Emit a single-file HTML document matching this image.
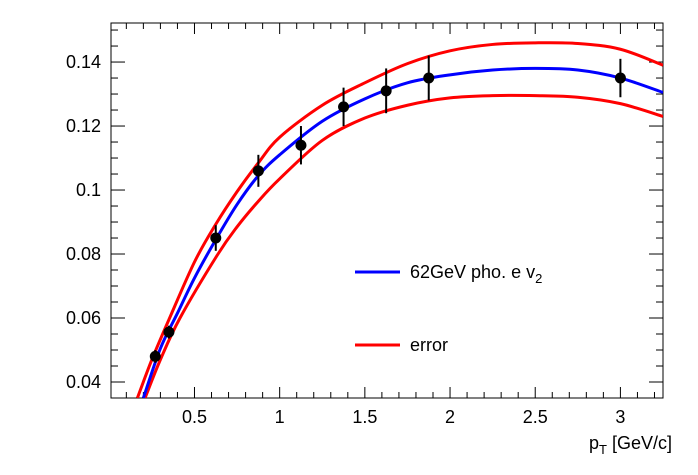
<!DOCTYPE html>
<html><head><meta charset="utf-8"><style>
body{margin:0;background:#fff}
svg{display:block;font-family:"Liberation Sans",sans-serif}
</style></head><body>
<svg id="c" width="698" height="475"></svg>
<script>
const ptX=[0.27,0.35,0.625,0.875,1.125,1.375,1.625,1.875,3];
const ptY=[0.048,0.0556,0.085,0.106,0.114,0.126,0.131,0.135,0.135];
const ptErr=[0.002,0.002,0.004,0.005,0.006,0.006,0.007,0.007,0.006];
const blueX=[0.2,0.3,0.4,0.5,0.625,0.75,0.875,1,1.25,1.5,1.75,2,2.25,2.5,2.75,3,3.25];
const blueY=[0.035,0.0505,0.0615,0.0725,0.0845,0.0955,0.1045,0.111,0.1215,0.1285,0.1335,0.136,0.1375,0.138,0.1375,0.135,0.1305];
const upperX=[0.165,0.25,0.35,0.5,0.625,0.75,0.875,1,1.25,1.5,1.75,2,2.25,2.5,2.75,3,3.25];
const upperY=[0.035,0.047,0.0595,0.0775,0.0893,0.0995,0.1085,0.1165,0.1265,0.1335,0.1395,0.1435,0.1455,0.146,0.1458,0.144,0.139];
const lowerX=[0.21,0.3,0.415,0.632,0.75,0.875,1,1.25,1.5,1.75,2,2.25,2.5,2.75,3,3.25];
const lowerY=[0.035,0.047,0.06,0.0795,0.0885,0.0965,0.1035,0.1155,0.1225,0.1265,0.1288,0.1295,0.1295,0.129,0.127,0.123];
const xTicks=[0.5,1,1.5,2,2.5,3];
const xTickLabels=["0.5","1","1.5","2","2.5","3"];
const yTicks=[0.04,0.06,0.08,0.1,0.12,0.14];
const yTickLabels=["0.04","0.06","0.08","0.1","0.12","0.14"];
const L=111,R=663,T=23,B=398,xmin=0.01,xmax=3.25,ymin=0.035,ymax=0.1522;
const sx=v=>L+(v-xmin)/(xmax-xmin)*(R-L);
const sy=v=>B-(v-ymin)/(ymax-ymin)*(B-T);
const svg=document.getElementById('c');const NS='http://www.w3.org/2000/svg';
function mk(t,a,p){const e=document.createElementNS(NS,t);for(const k in a)e.setAttribute(k,a[k]);(p||svg).appendChild(e);return e;}
const clip=mk('clipPath',{id:'cp'});mk('rect',{x:L,y:T,width:R-L,height:B-T},clip);
const fr=mk('rect',{x:L,y:T,width:R-L,height:B-T,fill:'none',stroke:'#000','stroke-width':1});


for(let v=0.1;v<=3.25;v+=0.1){const x=sx(v);const maj=Math.abs(v*2-Math.round(v*2))<1e-6;const h=maj?11:6;
mk('line',{x1:x,x2:x,y1:B,y2:B-h,stroke:'#000'});mk('line',{x1:x,x2:x,y1:T,y2:T+h,stroke:'#000'});}
xTicks.forEach((v,i)=>{const t=mk('text',{x:sx(v),y:B+25,'text-anchor':'middle','font-size':18});t.textContent=xTickLabels[i];

});
for(let v=0.035;v<=0.152;v+=0.005){const y=sy(v);const maj=Math.abs(v*50-Math.round(v*50))<1e-6;const w=maj?14:7;
mk('line',{x1:L,x2:L+w,y1:y,y2:y,stroke:'#000'});mk('line',{x1:R,x2:R-w,y1:y,y2:y,stroke:'#000'});}
yTicks.forEach((v,i)=>{const t=mk('text',{x:L-10,y:sy(v)+6,'text-anchor':'end','font-size':18});t.textContent=yTickLabels[i];

});
const g=mk('g',{'clip-path':'url(#cp)'});
function line(xs,ys,col,name){
const P=xs.map((x,i)=>[sx(x),sy(ys[i])]);let d='M'+P[0][0]+','+P[0][1];
for(let i=0;i<P.length-1;i++){const p0=P[Math.max(0,i-1)],p1=P[i],p2=P[i+1],p3=P[Math.min(P.length-1,i+2)];
d+=' C'+(p1[0]+(p2[0]-p0[0])/6)+','+(p1[1]+(p2[1]-p0[1])/6)+' '+(p2[0]-(p3[0]-p1[0])/6)+','+(p2[1]-(p3[1]-p1[1])/6)+' '+p2[0]+','+p2[1];}
const p=mk('path',{d:d,fill:'none',stroke:col,'stroke-width':3},g);

}
line(upperX,upperY,'#f00','error-upper-curve');
line(lowerX,lowerY,'#f00','error-lower-curve');
line(blueX,blueY,'#00f','v2-curve');
ptX.forEach((x,i)=>{const e=mk('line',{x1:sx(x),x2:sx(x),y1:sy(ptY[i]-ptErr[i]),y2:sy(ptY[i]+ptErr[i]),stroke:'#000','stroke-width':2},g);


const c=mk('circle',{cx:sx(x),cy:sy(ptY[i]),r:5.5,fill:'#000'},g);

});
const l1=mk('line',{x1:355,x2:400,y1:272,y2:272,stroke:'#00f','stroke-width':3});


const t1=mk('text',{x:410,y:278,'font-size':18});t1.innerHTML='62GeV pho. e v<tspan font-size="13" dy="5">2</tspan>';


const l2=mk('line',{x1:355,x2:400,y1:345,y2:345,stroke:'#f00','stroke-width':3});


const t2=mk('text',{x:410,y:351,'font-size':18});t2.textContent='error';


const xl=mk('text',{x:672,y:449,'text-anchor':'end','font-size':18});xl.innerHTML='p<tspan font-size="13" dy="5">T</tspan><tspan dy="-5"> [GeV/c]</tspan>';


</script>
</body></html>
